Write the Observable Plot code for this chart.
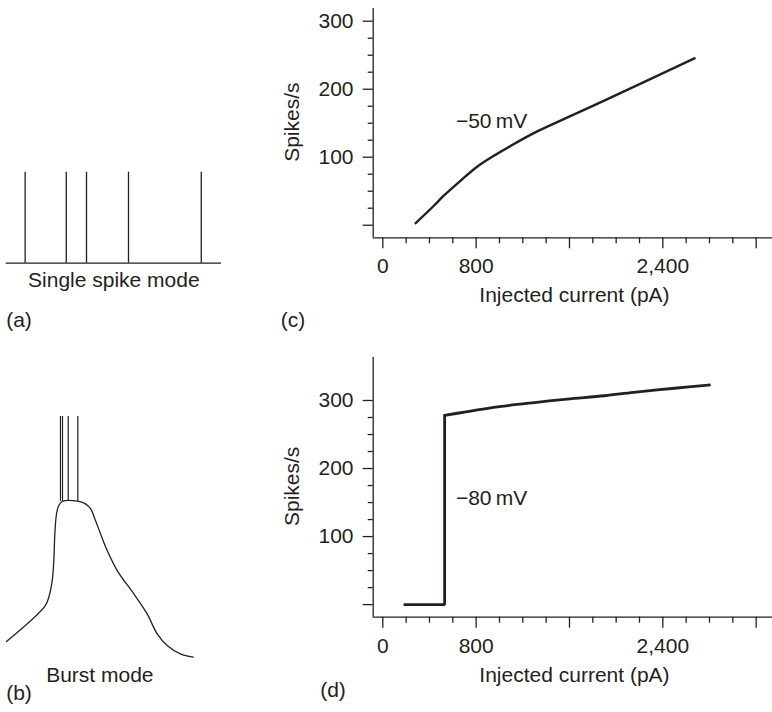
<!DOCTYPE html>
<html>
<head>
<meta charset="utf-8">
<script src="https://cdn.jsdelivr.net/npm/d3@7"></script>
<script src="https://cdn.jsdelivr.net/npm/@observablehq/plot@0.6"></script>
<style>
  html, body { margin: 0; padding: 0; background: #fff; }
  #fig { position: relative; width: 772px; height: 712px; overflow: hidden; background: #fff; }
  #fig > svg { position: absolute; overflow: visible; }
</style>
</head>
<body>
<div id="fig"></div>
<script>
// ---- (a) single spike mode: spike times along a 1 s sweep (ms)
const singleSweep = [0, 1000];
const singleSpikeTimes = [88, 279, 373, 568, 906];

// ---- (b) burst mode: membrane trace (ms, mV) and the spikes riding on it
const burstTime = [0, 41, 45.3, 49, 50.7, 51.8, 53.6, 56, 59.7, 77.5, 84.6, 90, 95.3, 100.7, 107.9, 118.6, 136.4, 150.7, 161.4, 172.1, 186.4, 200];
const burstVm   = [-73.5, -58.9, -55.1, -48.1, -39.8, -28.7, -20.4, -17, -15.3, -15.3, -16.3, -18.3, -23.2, -28.7, -35.7, -44, -53.7, -62, -70.3, -75.1, -78.6, -80];
const burstSpikeTimes = [57.8, 60, 66.1, 76.4];
const burstSpikeBase = -15.3;
const burstSpikePeak = 20;

// ---- (c) firing rate vs injected current, held at −50 mV
const tonicCurrent = [275, 440, 520, 670, 800, 950, 1120, 1290, 1410, 1870, 2680];
const tonicRate    = [2, 29, 43, 66, 85, 102, 119, 135, 145, 181, 246];

// ---- (d) firing rate vs injected current, held at −80 mV
// the first three points trace the step, the rest the saturating branch
const burstCurrent = [190, 530, 530, 700, 1000, 1300, 1580, 1900, 2150, 2500, 2810];
const burstRate    = [0, 0, 278, 283, 291, 297, 302, 307, 312, 318, 323];
const burstStepEnd = 3;

// ---- axis ticks
const currentMajorTicks = [0, 800, 1600, 2400, 3200];
const currentTickLabels = [0, 800, 2400];
const currentMinorTicks = [200, 400, 600, 1000, 1200, 1400, 1800, 2000, 2200, 2600, 2800, 3000];
const rateMajorTicks = [0, 100, 200, 300];
const rateTickLabels = [100, 200, 300];
const rateMinorTicks = [25, 50, 75, 125, 150, 175, 225, 250, 275];

const FONT = '"Liberation Sans", Arial, Helvetica, sans-serif';
const INK = "#231f20";
const fig = document.getElementById("fig");

function place(svg, left, top) {
  svg.style.left = left + "px";
  svg.style.top = top + "px";
  fig.appendChild(svg);
}

const baseStyle = {fontFamily: FONT, fontSize: "21px", color: INK, background: "transparent", overflow: "visible"};
const label = (text, opts) => Plot.text([text], {fill: INK, fontSize: 21, lineAnchor: "middle", textAnchor: "middle", ...opts});

// (a) single spike mode
place(Plot.plot({
  width: 240, height: 190,
  marginLeft: 5.7, marginRight: 19, marginTop: 21.7, marginBottom: 77.3,
  style: baseStyle,
  x: {domain: singleSweep, axis: null},
  y: {domain: [0, 1], axis: null},
  marks: [
    Plot.ruleY([0], {stroke: INK, strokeWidth: 1.3}),
    Plot.ruleX(singleSpikeTimes, {x: d => d, y1: 0, y2: 1, stroke: INK, strokeWidth: 1.3}),
    label("Single spike mode", {frameAnchor: "bottom", dy: 17.3}),
    label("(a)", {frameAnchor: "bottom-left", dx: 12.8, dy: 57.3})
  ]
}), 0, 150);

// (b) burst mode
const burstTrace = burstTime.map((t, i) => ({t, v: burstVm[i]}));
place(Plot.plot({
  width: 240, height: 312,
  marginLeft: 6, marginRight: 47.3, marginTop: 16, marginBottom: 55.3,
  style: baseStyle,
  x: {domain: [0, 200], axis: null},
  y: {domain: [-80, 20], axis: null},
  marks: [
    Plot.line(burstTrace, {x: "t", y: "v", curve: "catmull-rom", stroke: INK, strokeWidth: 1.3}),
    Plot.ruleX(burstSpikeTimes, {x: d => d, y1: burstSpikeBase, y2: burstSpikePeak, stroke: INK, strokeWidth: 1.2}),
    label("Burst mode", {frameAnchor: "bottom", dy: 18.3}),
    label("(b)", {frameAnchor: "bottom-left", dx: 12.5, dy: 36.3})
  ]
}), 0, 400);

// (c) and (d): frequency–current panels sharing one layout
function fiPanel({segments, yMax, height, marginTop, marginBottom, hold, holdAt, tag, tagDx, tagDy, strokeWidth}) {
  const xDomain = [-82.3, 3340];
  const yDomain = [-18.5, yMax];
  return Plot.plot({
    width: 512, height,
    marginLeft: 112.7, marginRight: 0, marginTop, marginBottom,
    style: baseStyle,
    x: {domain: xDomain},
    y: {domain: yDomain},
    marks: [
      // minor ticks
      Plot.axisX({ticks: currentMinorTicks, tickSize: 6, tickFormat: () => "", label: null, strokeWidth: 1.3}),
      Plot.axisY({ticks: rateMinorTicks, tickSize: 5, tickFormat: () => "", label: null, strokeWidth: 1.3}),
      // major ticks with labels
      Plot.axisX({ticks: currentMajorTicks, tickSize: 11, tickPadding: 9.5, label: null, strokeWidth: 1.3,
        tickFormat: d => currentTickLabels.includes(d) ? d3.format(",")(d) : ""}),
      Plot.axisY({ticks: rateMajorTicks, tickSize: 10, tickPadding: 9.7, label: null, strokeWidth: 1.3,
        tickFormat: d => rateTickLabels.includes(d) ? String(d) : ""}),
      // axis lines
      Plot.ruleX([xDomain[0]], {stroke: INK, strokeWidth: 1.3}),
      Plot.ruleY([yDomain[0]], {stroke: INK, strokeWidth: 1.3}),
      // the f–I curve
      ...segments.map(({pts, curve, cap}) =>
        Plot.line(pts, {x: "c", y: "r", curve, stroke: INK, strokeWidth, strokeLinejoin: "miter", strokeLinecap: cap})),
      // holding-potential label
      Plot.text([hold], {x: holdAt[0], y: holdAt[1], fill: INK, fontSize: 21}),
      // axis titles
      label("Injected current (pA)", {frameAnchor: "bottom", dx: 1.6, dy: 57.7}),
      label("Spikes/s", {frameAnchor: "left", rotate: -90, dx: -80.7, dy: -1}),
      // panel tag
      label(tag, {frameAnchor: "bottom-left", dx: tagDx, dy: tagDy})
    ]
  });
}

const toPts = (current, rate) => current.map((c, i) => ({c, r: rate[i]}));
const tonicPts = toPts(tonicCurrent, tonicRate);
const burstPts = toPts(burstCurrent, burstRate);

place(fiPanel({
  segments: [{pts: tonicPts, curve: "catmull-rom", cap: "butt"}],
  yMax: 318.7, height: 340, marginTop: 8, marginBottom: 102.7,
  hold: "\u221250\u2009mV", holdAt: [932, 153], tag: "(c)", tagDx: -80.2, tagDy: 82.7,
  strokeWidth: 2.4
}), 260, 0);

place(fiPanel({
  segments: [
    {pts: burstPts.slice(0, burstStepEnd), curve: "linear", cap: "square"},
    {pts: burstPts.slice(burstStepEnd - 1), curve: "catmull-rom", cap: "butt"}
  ],
  yMax: 363.2, height: 362, marginTop: 7, marginBottom: 95.3,
  hold: "\u221280\u2009mV", holdAt: [932, 156], tag: "(d)", tagDx: -40.2, tagDy: 73.3,
  strokeWidth: 2.8
}), 260, 350);
</script>
</body>
</html>
